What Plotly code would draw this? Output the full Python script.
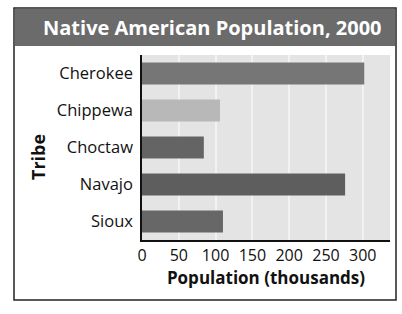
import plotly.graph_objects as go

tribes = ["Cherokee", "Chippewa", "Choctaw", "Navajo", "Sioux"]
population = [302, 106, 84, 276, 110]
bar_colors = ["#767676", "#b8b8b8", "#646464", "#5e5e5e", "#676767"]
x_ticks = [0, 50, 100, 150, 200, 250, 300]

W, H = 402, 314
L, R, T, B = 142, 12, 55, 74
pw, ph = W - L - R, H - T - B

def px(x):
    return (x - L) / pw

def py(y):
    return (H - B - y) / ph

fig = go.Figure(go.Bar(
    y=tribes, x=population, orientation="h",
    marker=dict(color=bar_colors, line=dict(width=0)),
    width=0.6,
))

fig.update_layout(
    width=W, height=H,
    margin=dict(l=L, r=R, t=T, b=B),
    paper_bgcolor="white",
    plot_bgcolor="#e4e4e4",
    font=dict(family="Open Sans", color="#111111", size=16),
    showlegend=False,
    shapes=[
        dict(type="rect", xref="paper", yref="paper",
             x0=px(14), x1=px(396), y0=py(300), y1=py(8),
             line=dict(color="#222222", width=1.5), fillcolor="rgba(0,0,0,0)", layer="below"),
        dict(type="rect", xref="paper", yref="paper",
             x0=px(15), x1=px(395), y0=py(46), y1=py(9),
             line=dict(width=0), fillcolor="#6b6b6b", layer="below"),
    ],
    annotations=[
        dict(text="<b>Native American Population, 2000</b>", xref="paper", yref="paper",
             x=px(212), y=py(28), showarrow=False, xanchor="center", yanchor="middle",
             font=dict(size=20, color="white", family="Open Sans")),
        dict(text="<b>Tribe</b>", xref="paper", yref="paper",
             x=px(38), y=py(157), showarrow=False, textangle=-90,
             xanchor="center", yanchor="middle",
             font=dict(size=18, color="#111111")),
    ],
    xaxis=dict(
        range=[0, 337], tickvals=x_ticks, ticktext=[str(v) for v in x_ticks],
        showgrid=True, gridcolor="#f2f2f2", gridwidth=1.5,
        showline=True, linecolor="#111111", linewidth=1.5,
        ticks="", zeroline=False,
        title=dict(text="<b>Population (thousands)</b>", font=dict(size=17), standoff=6),
        tickfont=dict(size=16),
    ),
    yaxis=dict(
        categoryorder="array", categoryarray=tribes[::-1],
        showline=True, linecolor="#111111", linewidth=1.5,
        showgrid=False, ticks="", ticklabelstandoff=4,
        tickfont=dict(size=16.5),
    ),
    bargap=0.4,
)

fig.write_html("out.html", config={"displayModeBar": False},
               post_script="document.body.style.margin='0';document.body.style.overflow='hidden';")
